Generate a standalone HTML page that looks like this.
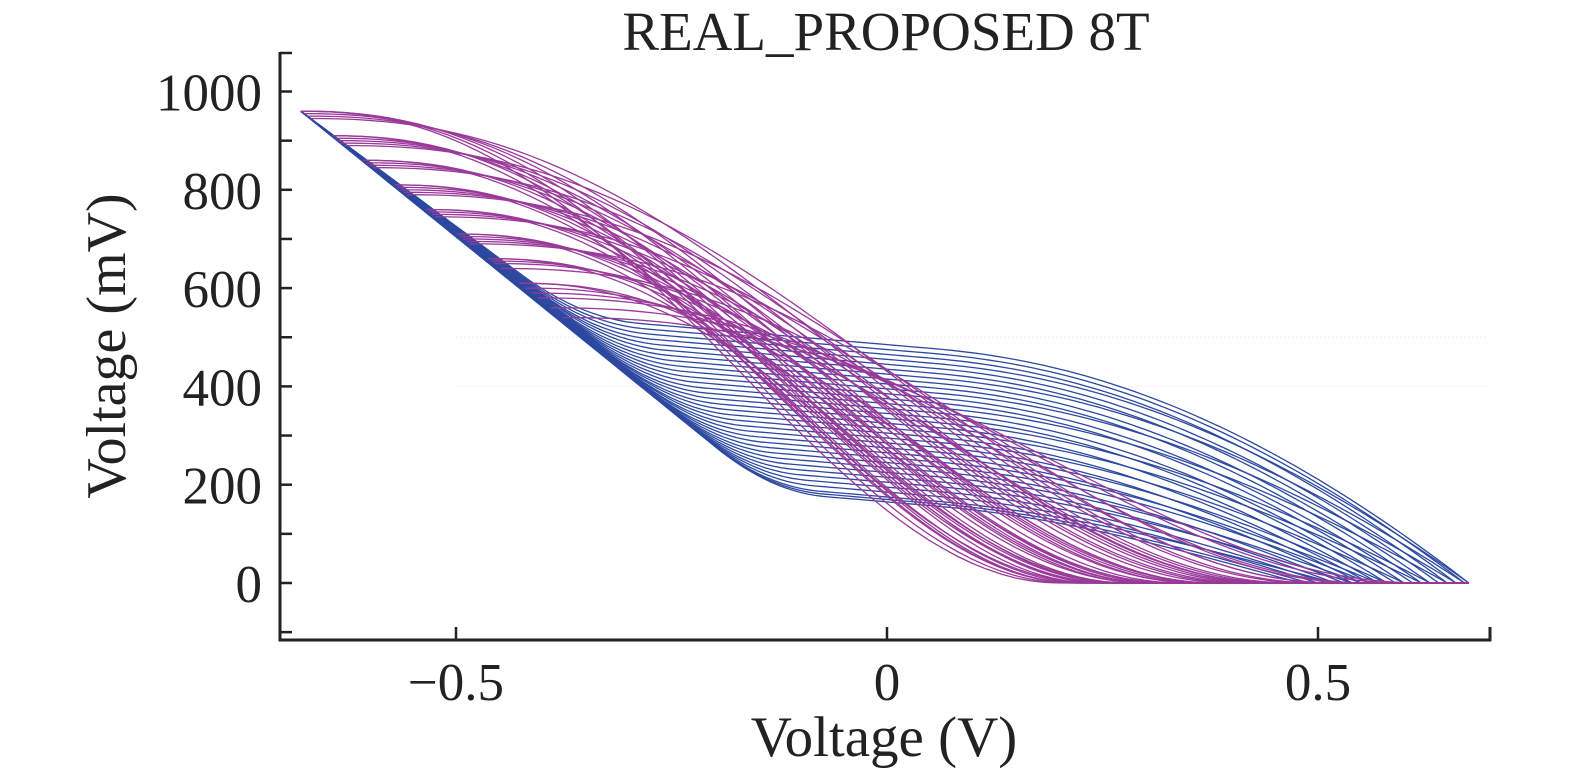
<!DOCTYPE html>
<html><head><meta charset="utf-8"><style>
html,body{margin:0;padding:0;background:#fff;}
svg{display:block;font-family:"Liberation Serif",serif;}
</style></head><body>
<svg id="chart" width="1575" height="776" viewBox="0 0 1575 776">
<text x="886" y="50" font-size="55" text-anchor="middle" fill="#222">REAL_PROPOSED 8T</text>
<g id="grid"></g>
<g id="curves"></g>
<g id="axes"></g>
<text x="884" y="756" font-size="57" text-anchor="middle" fill="#222">Voltage (V)</text>
<text transform="translate(125,346) rotate(-90)" font-size="56" text-anchor="middle" fill="#222">Voltage (mV)</text>
</svg>
<script>
// ---- data ----
const xTicks = [-0.5, 0, 0.5];
const xTickLabels = ["\u22120.5", "0", "0.5"];
const yTicks = [0, 200, 400, 600, 800, 1000];
const yTickLabels = ["0", "200", "400", "600", "800", "1000"];
// magenta curves: top level (mV) and x where they reach 0 (V)
const magTop = [960,960,960,955,950,945,910,910,905,900,895,890,860,860,855,850,845,810,810,805,800,795,790,760,760,755,750,745,710,710,705,700,695,690,660,660,655,650,640,610,610,600,590,580,560,540];
const magEnd = [0.20,0.24,0.28,0.33,0.38,0.45,0.21,0.26,0.30,0.36,0.42,0.50,0.22,0.27,0.33,0.40,0.47,0.22,0.26,0.31,0.37,0.44,0.52,0.23,0.28,0.34,0.41,0.49,0.22,0.27,0.32,0.38,0.45,0.55,0.24,0.30,0.36,0.43,0.52,0.25,0.31,0.38,0.46,0.56,0.60,0.62];
// blue curves: plateau level (mV), diagonal slope (mV/V), x where they reach 0 (V)
const bluePlateau = [500,490,480,470,460,450,440,430,420,410,400,390,380,370,360,350,340,330,320,310,300,290,280,270,260,250,240,230,220,210,200,190,185,180];
const blueSlope = [-1300,-1310,-1320,-1330,-1335,-1340,-1350,-1355,-1360,-1365,-1370,-1375,-1380,-1385,-1385,-1390,-1390,-1395,-1395,-1400,-1400,-1405,-1405,-1408,-1410,-1410,-1412,-1414,-1415,-1416,-1418,-1419,-1420,-1420];
const blueEnd = [0.675,0.67,0.66,0.675,0.65,0.64,0.67,0.63,0.62,0.66,0.61,0.60,0.65,0.59,0.58,0.63,0.57,0.62,0.56,0.60,0.55,0.58,0.54,0.57,0.56,0.53,0.55,0.52,0.54,0.51,0.50,0.52,0.49,0.48];

// ---- scales ----
const X0 = 887, XS = 862;
const Y0 = 583, YS = 0.4915;
const sx = v => X0 + v * XS;
const sy = v => Y0 - v * YS;
const NS = "http://www.w3.org/2000/svg";
const xStart = -0.68, xPin = 0.675;

function mk(tag, attrs, parent){
  const e = document.createElementNS(NS, tag);
  for (const k in attrs) e.setAttribute(k, attrs[k]);
  parent.appendChild(e);
  return e;
}
const curves = document.getElementById('curves');
const axes = document.getElementById('axes');
const grid = document.getElementById('grid');

[400,500].forEach(v=>{
  const l = mk('line',{x1:sx(-0.5),x2:1488,y1:sy(v),y2:sy(v),stroke:'#eee','stroke-width':1,'stroke-dasharray':'2,2'},grid);
  
  
});

function smax(a,b,k){const h=Math.max(k-Math.abs(a-b),0)/k;return Math.max(a,b)+h*h*k*0.25;}

// blue
bluePlateau.forEach((P,i)=>{
  const s = blueSlope[i], e = blueEnd[i];
  const xb = 0.05;
  let d = '';
  const N = 140;
  for (let j=0;j<=N;j++){
    const x = xStart + (e - xStart)*j/N;
    const dg = 960 + (x - xStart)*s;
    let pl = P - 150*(x + 0.1);
    if (x > xb) { const t=(x-xb)/(e-xb); pl *= (1 - Math.pow(t,2.2)); }
    let y = smax(dg, pl, 80);
    if (x < xStart + 0.02) y = dg;
    if (y < 0) y = 0;
    d += (j?'L':'M') + sx(x).toFixed(1) + ',' + sy(y).toFixed(1);
  }
  d += 'L' + sx(xPin).toFixed(1) + ',' + sy(0).toFixed(1);
  const p = mk('path',{d, fill:'none', stroke:'#2d49a0','stroke-width':1.3},curves);
  
  
});

// magenta
magTop.forEach((T,i)=>{
  const e = magEnd[i];
  const x0 = xStart + (960 - T) / 1380;
  let d = '';
  const N = 80;
  for (let j=0;j<=N;j++){
    const x = x0 + (xPin - x0)*j/N;
    let y;
    if (x >= e) y = 0;
    else { const t=(x-x0)/(e-x0); y = T*0.5*(1+Math.cos(Math.PI*Math.pow(t,1.15))); }
    d += (j?'L':'M') + sx(x).toFixed(1) + ',' + sy(y).toFixed(1);
  }
  const p = mk('path',{d, fill:'none', stroke:'#993a9a','stroke-width':1.3},curves);
  
  
});

// axes
const ax = mk('path',{d:'M280,52 L280,640 L1490,640 L1490,627',fill:'none',stroke:'#222','stroke-width':3},axes);


for (let v=-100; v<=1000; v+=100){
  const t = mk('line',{x1:280,x2:292,y1:sy(v),y2:sy(v),stroke:'#222','stroke-width':2.5},axes);
  
  
}
const tt = mk('line',{x1:280,x2:292,y1:53,y2:53,stroke:'#222','stroke-width':2.5},axes);


yTicks.forEach((v,i)=>{
  const t = mk('text',{x:262,y:sy(v)+19,'font-size':53,'text-anchor':'end',fill:'#222'},axes);
  t.textContent = yTickLabels[i];
  
  
});
xTicks.forEach((v,i)=>{
  const l = mk('line',{x1:sx(v),x2:sx(v),y1:640,y2:627,stroke:'#222','stroke-width':2.5},axes);
  
  
  const t = mk('text',{x:sx(v),y:700,'font-size':53,'text-anchor':'middle',fill:'#222'},axes);
  t.textContent = xTickLabels[i];
  
  
});
</script>
</body></html>
